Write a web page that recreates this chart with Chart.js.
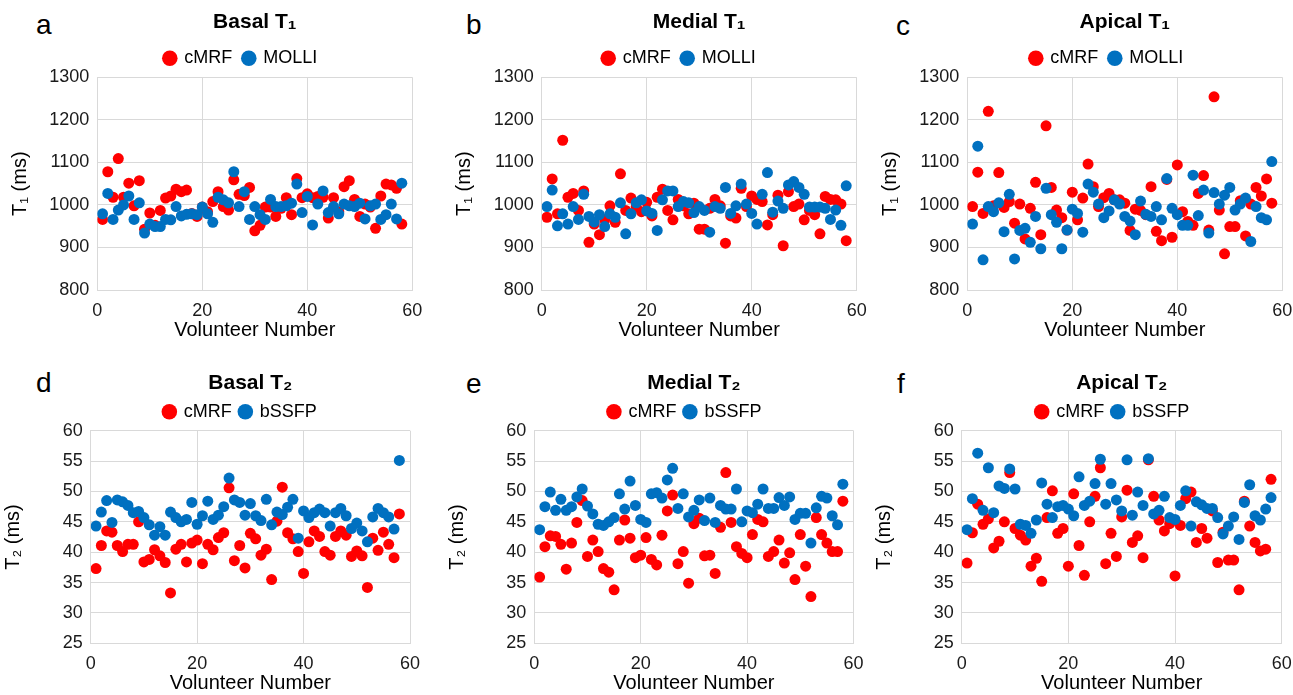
<!DOCTYPE html>
<html>
<head>
<meta charset="utf-8">
<script src="https://cdn.jsdelivr.net/npm/chart.js@4.4.1/dist/chart.umd.min.js"></script>
<style>
  body { margin: 0; background: #fff; width: 1293px; height: 695px; position: relative; overflow: hidden;
         font-family: "Liberation Sans", Arial, sans-serif; }
  canvas { position: absolute; }
  .tag { position: absolute; font-size: 28px; line-height: 1; color: #000; }
</style>
</head>
<body>
<div class="tag" style="left:36px;top:11px">a</div>
<div class="tag" style="left:466px;top:11px">b</div>
<div class="tag" style="left:896px;top:12px">c</div>
<div class="tag" style="left:36px;top:369px">d</div>
<div class="tag" style="left:466px;top:370px">e</div>
<div class="tag" style="left:897px;top:370px">f</div>
<script>
"use strict";

// volunteer numbers (x axis)
var volunteers = [1,2,3,4,5,6,7,8,9,10,11,12,13,14,15,16,17,18,19,20,21,22,23,24,25,26,27,28,29,30,
  31,32,33,34,35,36,37,38,39,40,41,42,43,44,45,46,47,48,49,50,51,52,53,54,55,56,57,58];

// T1 (ms)
var basalT1cMRF = [966,1078,1018,1109,1018,1051,998,1057,943,981,952,987,1016,1021,1037,1031,1035,980,973,995,
  984,1008,1031,996,988,1059,1025,1022,1041,939,952,995,995,973,992,1017,977,1062,1017,1026,
  1017,1020,1018,969,1017,984,1043,1057,1013,973,1002,995,945,1021,1049,1047,1039,955];
var basalT1MOLLI = [979,1027,966,988,1000,1021,966,1005,934,955,949,949,966,965,996,974,978,979,977,995,
  979,959,1018,1012,1005,1078,996,1031,966,996,977,966,1013,996,996,998,1004,1049,982,1020,
  953,1002,1033,982,996,979,1002,998,996,1004,967,998,1002,966,977,1002,967,1051];

var medialT1cMRF = [971,1061,979,1152,1018,1027,987,1033,912,955,930,965,998,959,1073,987,1016,996,984,1006,
  974,1018,1037,987,965,1013,998,979,1004,943,943,992,1013,998,910,974,969,1039,996,1021,
  1013,1008,953,977,1023,904,1031,996,1002,965,987,977,932,1020,1013,1012,1002,916];
var medialT1MOLLI = [996,1035,951,979,955,996,966,1025,973,960,977,949,979,971,1005,932,979,1005,1012,986,
  980,940,1012,1033,1033,996,1008,1005,982,996,987,936,996,992,1041,980,998,1049,1002,980,
  955,1025,1076,983,1009,992,1047,1055,1041,1025,995,995,995,992,966,988,952,1045];

var apicalT1cMRF = [996,1077,980,1220,998,1076,994,1008,957,1002,920,992,1053,930,1186,1041,988,970,941,1030,
  965,1016,1096,1043,996,1017,1027,1012,1012,1004,940,990,987,977,1043,938,916,1060,924,1094,
  984,961,952,1027,1069,941,1254,988,885,949,949,1010,927,1002,1041,1021,1061,1004];
var apicalT1MOLLI = [955,1138,871,996,984,1005,937,1025,873,940,945,912,973,897,1039,977,959,897,941,990,
  980,936,1049,1030,1002,970,986,1012,1002,973,962,930,1009,978,973,996,965,1062,992,977,
  952,952,1070,975,1035,934,1029,1002,1023,1041,988,1002,1016,914,996,970,965,1102];

// T2 (ms)
var basalT2cMRF = [37.3,41.1,43.5,43.3,41.1,40.1,41.3,41.3,45.0,38.4,38.8,40.4,39.4,38.3,33.3,40.5,41.3,38.4,41.5,42.0,
  38.1,41.3,40.4,42.4,43.2,50.6,38.6,41.1,37.4,43.1,42.2,39.5,40.5,35.5,45.1,50.7,43.2,42.2,40.1,36.5,
  41.7,43.5,42.6,40.1,39.5,42.6,43.5,42.8,39.3,40.2,39.4,34.2,42.3,40.3,43.3,41.3,39.1,46.3];
var basalT2bSSFP = [44.3,46.6,48.5,44.9,48.6,48.3,47.7,46.5,46.7,45.7,44.5,42.8,44.2,42.8,46.6,45.7,45.0,45.4,48.2,44.6,
  46.0,48.4,45.4,46.1,47.5,52.2,48.6,48.2,46.1,48.0,46.0,45.2,48.7,44.5,46.6,46.2,47.4,48.7,42.3,46.8,
  45.7,46.5,47.1,46.5,44.3,46.5,47.2,46.0,43.9,44.8,43.5,41.7,45.8,47.2,46.5,45.8,43.8,55.1];

var medialT2cMRF = [35.9,40.9,42.7,42.6,41.3,37.2,41.5,44.9,48.5,39.3,42.0,40.1,37.3,36.7,33.8,42.0,45.3,42.3,39.1,39.5,
  42.4,38.8,37.9,42.8,46.8,49.4,38.1,40.1,34.9,44.7,45.6,39.4,39.5,36.5,44.1,53.1,44.9,40.9,39.8,39.1,
  42.9,45.4,45.0,39.3,40.1,42.0,38.2,39.9,35.5,42.9,37.7,32.7,45.7,42.9,41.5,40.1,40.1,48.4];
var medialT2bSSFP = [43.7,47.5,49.9,46.9,48.7,46.9,47.5,49.1,50.4,47.6,46.3,44.6,44.4,45.0,45.7,49.6,47.1,51.7,47.7,45.4,
  44.9,49.6,49.8,48.9,51.9,53.8,47.2,49.6,45.8,46.9,48.6,45.2,48.9,44.9,47.7,47.1,47.1,50.4,45.0,46.8,
  46.5,47.9,50.4,47.2,47.2,49.0,47.7,49.1,45.4,46.4,46.4,41.5,47.3,49.2,48.9,46.0,44.5,51.2];

var apicalT2cMRF = [38.2,43.2,47.9,44.6,45.5,40.7,41.8,45.0,53.1,43.9,42.8,42.0,37.7,39.0,35.2,45.7,50.1,43.1,43.9,37.7,
  49.6,41.1,36.2,45.0,49.2,53.9,38.1,43.1,39.3,45.8,50.2,41.6,42.7,39.1,55.2,49.2,45.3,43.5,44.7,36.1,
  44.4,48.8,49.9,41.6,43.9,42.3,46.8,38.3,43.3,38.7,38.7,33.8,48.4,44.3,41.6,40.2,40.5,52.0];
var apicalT2bSSFP = [43.7,48.8,56.3,46.9,53.9,46.5,50.9,50.5,53.7,50.4,44.6,44.4,43.1,45.3,51.4,47.9,45.7,47.5,47.7,47.1,
  46.0,52.4,47.7,48.4,51.3,55.3,47.9,51.3,48.6,46.8,55.2,46.1,49.9,47.7,55.4,46.3,46.9,49.2,45.7,45.4,
  47.7,50.1,44.3,48.3,47.8,47.2,47.2,45.7,43.0,44.3,45.8,42.1,48.2,51.1,46.0,45.3,47.1,49.0];

var RED = '#ff0000';
var BLUE = '#0070c0';
var GRID = '#d9d9d9';
var TEXT = '#1a1a1a';
var FONT = '"Liberation Sans", Arial, sans-serif';

// box = canvas left, top, width, height; area = wanted plot area (page px)
var panels = [
  { title: 'Basal T₁',  ref: 'MOLLI', red: basalT1cMRF,  blue: basalT1MOLLI,  yTitle: 'T₁ (ms)', yMin: 800, yMax: 1300, yStep: 100,
    box: [0, 0, 450, 345],   area: [97.3, 77.3, 412.3, 290], legendPad: 11, titlePad: 3, legendDx: -14 },
  { title: 'Medial T₁', ref: 'MOLLI', red: medialT1cMRF, blue: medialT1MOLLI, yTitle: 'T₁ (ms)', yMin: 800, yMax: 1300, yStep: 100,
    box: [430, 0, 460, 345], area: [541.7, 77.3, 856.7, 290], legendPad: 11, titlePad: 3, legendDx: -20 },
  { title: 'Apical T₁', ref: 'MOLLI', red: apicalT1cMRF, blue: apicalT1MOLLI, yTitle: 'T₁ (ms)', yMin: 800, yMax: 1300, yStep: 100,
    box: [870, 0, 450, 345], area: [967.3, 77.3, 1282.3, 290], legendPad: 11, titlePad: 3, legendDx: -18 },
  { title: 'Basal T₂',  ref: 'bSSFP', red: basalT2cMRF,  blue: basalT2bSSFP,  yTitle: 'T₂ (ms)', yMin: 25, yMax: 60, yStep: 5,
    box: [0, 345, 450, 350],   area: [90.7, 430.7, 410, 643.3], legendPad: 8, titlePad: -1, legendDx: -10 },
  { title: 'Medial T₂', ref: 'bSSFP', red: medialT2cMRF, blue: medialT2bSSFP, yTitle: 'T₂ (ms)', yMin: 25, yMax: 60, yStep: 5,
    box: [430, 345, 460, 350], area: [534.3, 430.7, 853.5, 643.3], legendPad: 8, titlePad: -1, legendDx: -9 },
  { title: 'Apical T₂', ref: 'bSSFP', red: apicalT2cMRF, blue: apicalT2bSSFP, yTitle: 'T₂ (ms)', yMin: 25, yMax: 60, yStep: 5,
    box: [870, 345, 450, 350], area: [961.7, 430.7, 1281.7, 643.3], legendPad: 8, titlePad: -1, legendDx: -9 }
];

function points(values) {
  return volunteers.map(function (v, i) { return { x: v, y: values[i] }; });
}

function makeChart(p) {
  var canvas = document.createElement('canvas');
  canvas.width = p.box[2];
  canvas.height = p.box[3];
  canvas.style.left = p.box[0] + 'px';
  canvas.style.top = p.box[1] + 'px';
  document.body.appendChild(canvas);

  // the legend in the picture sits a little left of the plot centre
  var legendShift = {
    id: 'legendShift',
    afterLayout: function (c) {
      c.legend.left += p.legendDx;
      c.legend.right += p.legendDx;
    }
  };

  var chart = new Chart(canvas.getContext('2d'), {
    type: 'scatter',
    data: {
      datasets: [
        { label: 'cMRF', data: points(p.red), backgroundColor: RED, borderColor: RED, pointRadius: 5.5, borderWidth: 0, order: 1 },
        { label: p.ref, data: points(p.blue), backgroundColor: BLUE, borderColor: BLUE, pointRadius: 5.5, borderWidth: 0, order: 0 }
      ]
    },
    plugins: [legendShift],
    options: {
      responsive: false,
      animation: false,
      layout: { padding: { left: 0, right: 10, top: 0, bottom: 0 } },
      plugins: {
        title: { display: true, text: p.title, fullSize: false, color: '#000',
                 font: { family: FONT, size: 21, weight: 'bold' }, padding: { top: 6, bottom: p.titlePad } },
        legend: { fullSize: false,
                  labels: { usePointStyle: true, pointStyle: 'circle', boxWidth: 11, boxHeight: 11, padding: p.legendPad,
                            color: '#000', font: { family: FONT, size: 18 },
                            sort: function (a, b) { return a.datasetIndex - b.datasetIndex; } } },
        tooltip: { enabled: false }
      },
      scales: {
        x: {
          type: 'linear', min: 0, max: 60,
          ticks: { stepSize: 20, color: TEXT, font: { family: FONT, size: 18, lineHeight: 1 }, padding: 12 },
          grid: { color: GRID, drawTicks: false },
          border: { color: GRID },
          title: { display: true, text: 'Volunteer Number', color: '#000',
                   font: { family: FONT, size: 20, lineHeight: 1 }, padding: { top: -12, bottom: 0 } },
          afterFit: function (s) { s.paddingLeft = 0; s.paddingRight = 0; }
        },
        y: {
          min: p.yMin, max: p.yMax,
          ticks: { stepSize: p.yStep, color: TEXT, font: { family: FONT, size: 18 }, padding: 8,
                   callback: function (v) { return String(v); } },
          grid: { color: GRID, drawTicks: false },
          border: { color: GRID },
          title: { display: true, text: p.yTitle, color: '#000', font: { family: FONT, size: 20, lineHeight: 1 }, padding: 0 },
          afterFit: function (s) { s.width = 87; s.paddingTop = 0; s.paddingBottom = 0; }
        }
      }
    }
  });

  // nudge padding so the plot area lands where it is in the picture
  for (var k = 0; k < 3; k++) {
    var ca = chart.chartArea;
    var pad = chart.options.layout.padding;
    var left = p.area[0] - p.box[0], top = p.area[1] - p.box[1];
    var right = p.area[2] - p.box[0], bottom = p.area[3] - p.box[1];
    chart.options.layout.padding = {
      left: pad.left + (left - ca.left),
      top: pad.top + (top - ca.top),
      right: pad.right + (ca.right - right),
      bottom: pad.bottom + (ca.bottom - bottom)
    };
    chart.update('none');
  }
  return chart;
}

panels.forEach(makeChart);
</script>
</body>
</html>
